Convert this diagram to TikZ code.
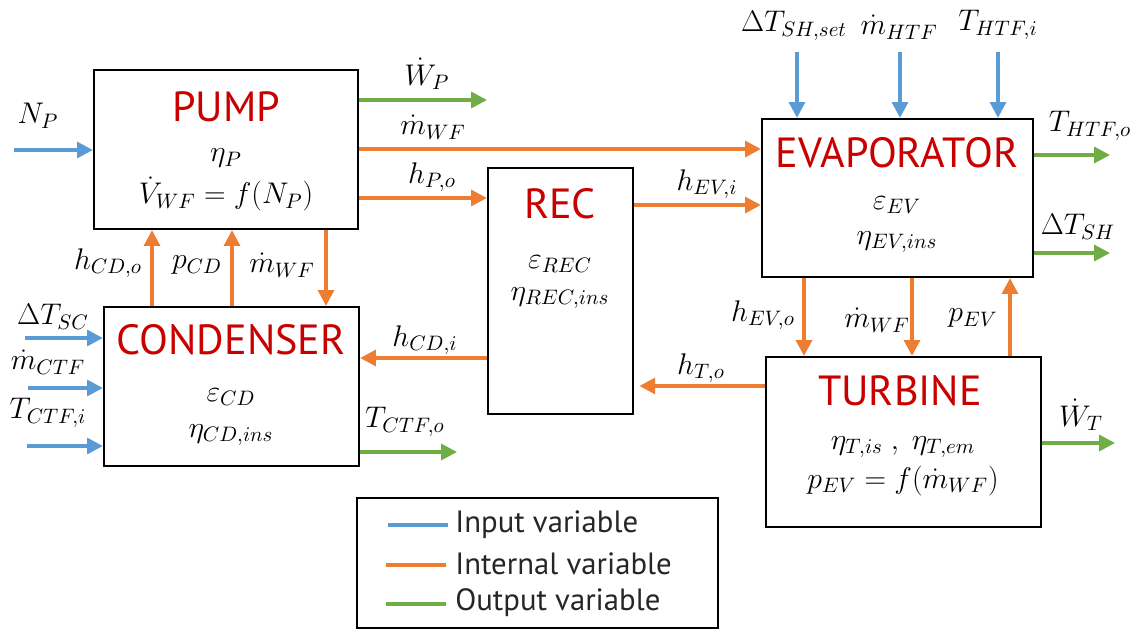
\RequirePackage{fix-cm}
\documentclass[tikz,border=0pt]{standalone}
\usepackage{fontspec}
\setmainfont{PT Sans}
\usetikzlibrary{arrows.meta}
\definecolor{cin}{HTML}{5B9BD5}
\definecolor{cint}{HTML}{ED7D31}
\definecolor{cout}{HTML}{70AD47}
\definecolor{ctitle}{HTML}{C80000}
\begin{document}
\begin{tikzpicture}[x=0.02cm,y=-0.02cm,
 box/.style={draw=black, line width=1.3pt, fill=white, inner sep=0},
 title/.style={text=ctitle, font=\fontsize{24}{26}\selectfont, inner sep=0},
 mth/.style={font=\fontsize{17}{20}\selectfont, inner sep=0},
 arr/.style={line width=2pt, -{Triangle[length=9pt,width=9pt]}},
 inarr/.style={arr, draw=cin},
 intarr/.style={arr, draw=cint},
 outarr/.style={arr, draw=cout},
 legline/.style={line width=2pt},
 legtext/.style={font=\fontsize{17.5}{20}\selectfont, anchor=west, inner sep=0, text=black!85}]
\fill[white] (0,0) rectangle (1139,630);
\useasboundingbox (0,0) rectangle (1139,630);

% boxes
\node[box, minimum width=5.28cm, minimum height=3.18cm] (pump) at (226,149.5) {};
\node[box, minimum width=5.10cm, minimum height=3.18cm] (cond) at (231.5,386.5) {};
\node[box, minimum width=2.90cm, minimum height=4.92cm] (rec) at (560.5,291) {};
\node[box, minimum width=5.42cm, minimum height=3.16cm] (evap) at (897.5,198) {};
\node[box, minimum width=5.50cm, minimum height=3.40cm] (turb) at (903.5,442) {};
\node[box, minimum width=7.22cm, minimum height=2.60cm] (leg) at (537.5,563) {};

% box texts
\node[title] (pumpT) at (226,107) {PUMP};
\node[mth] (pumpA) at (226,158) {$\eta_P$};
\node[mth] (pumpB) at (226,194) {$\dot V_{WF}=f(N_P)$};
\node[title] (condT) at (231,340) {CONDENSER};
\node[mth] (condA) at (231,397) {$\varepsilon_{CD}$};
\node[mth] (condB) at (231,435) {$\eta_{CD,ins}$};
\node[title] (recT) at (560,204) {REC};
\node[mth] (recA) at (560,264) {$\varepsilon_{REC}$};
\node[mth] (recB) at (560,298) {$\eta_{REC,ins}$};
\node[title] (evapT) at (897,153) {EVAPORATOR};
\node[mth] (evapA) at (897,205) {$\varepsilon_{EV}$};
\node[mth] (evapB) at (897,242) {$\eta_{EV,ins}$};
\node[title] (turbT) at (900,391) {TURBINE};
\node[mth] (turbA) at (903,447) {$\eta_{T,is}\ ,\ \eta_{T,em}$};
\node[mth] (turbB) at (903,481) {$p_{EV}=f(\dot m_{WF})$};

% free ends and levels
\coordinate (npS) at (14,150);
\coordinate (wpE) at (487,100);
\coordinate (mwfY) at (0,149);
\coordinate (hpoY) at (0,198);
\coordinate (heviY) at (0,205);
\coordinate (dtsS) at (797,52);
\coordinate (mhS) at (900,52);
\coordinate (thiS) at (998,52);
\coordinate (thoE) at (1110,155);
\coordinate (dshE) at (1110,253);
\coordinate (hevoX) at (804,0);
\coordinate (mwf2X) at (912,0);
\coordinate (pevX) at (1010,0);
\coordinate (htoY) at (0,386);
\coordinate (wtE) at (1115,443);
\coordinate (hcdiY) at (0,358);
\coordinate (hcdoX) at (152,0);
\coordinate (pcdX) at (232,0);
\coordinate (mwf3X) at (326,0);
\coordinate (dtscS) at (25,338);
\coordinate (mctfS) at (28,388);
\coordinate (tctfS) at (27,446);
\coordinate (tctfoE) at (457,452);

% connectors
\draw[inarr] (npS) -- (npS -| pump.west);
\draw[outarr] (wpE -| pump.east) -- (wpE);
\draw[intarr] (mwfY -| pump.east) -- (mwfY -| evap.west);
\draw[intarr] (hpoY -| pump.east) -- (hpoY -| rec.west);
\draw[intarr] (heviY -| rec.east) -- (heviY -| evap.west);
\draw[inarr] (dtsS) -- (dtsS |- evap.north);
\draw[inarr] (mhS) -- (mhS |- evap.north);
\draw[inarr] (thiS) -- (thiS |- evap.north);
\draw[outarr] (thoE -| evap.east) -- (thoE);
\draw[outarr] (dshE -| evap.east) -- (dshE);
\draw[intarr] (hevoX |- evap.south) -- (hevoX |- turb.north);
\draw[intarr] (mwf2X |- evap.south) -- (mwf2X |- turb.north);
\draw[intarr] (pevX |- turb.north) -- (pevX |- evap.south);
\draw[intarr, shorten >=3pt] (htoY -| turb.west) -- (htoY -| rec.east);
\draw[outarr] (wtE -| turb.east) -- (wtE);
\draw[intarr] (hcdiY -| rec.west) -- (hcdiY -| cond.east);
\draw[intarr] (hcdoX |- cond.north) -- (hcdoX |- pump.south);
\draw[intarr] (pcdX |- cond.north) -- (pcdX |- pump.south);
\draw[intarr] (mwf3X |- pump.south) -- (mwf3X |- cond.north);
\draw[inarr] (dtscS) -- (dtscS -| cond.west);
\draw[inarr] (mctfS) -- (mctfS -| cond.west);
\draw[inarr] (tctfS) -- (tctfS -| cond.west);
\draw[outarr] (tctfoE -| cond.east) -- (tctfoE);

% connector labels
\node[mth] (lNP) at (38,116) {$N_P$};
\node[mth] (lWP) at (427,74) {$\dot W_P$};
\node[mth] (lmwf) at (433,127) {$\dot m_{WF}$};
\node[mth] (lhpo) at (432,177) {$h_{P,o}$};
\node[mth] (lhevi) at (707,184) {$h_{EV,i}$};
\node[mth] (ldts) at (794,26) {$\Delta T_{SH,set}$};
\node[mth] (lmh) at (899,27) {$\dot m_{HTF}$};
\node[mth] (lthi) at (998,25) {$T_{HTF,i}$};
\node[mth] (ltho) at (1090,126) {$T_{HTF,o}$};
\node[mth] (ldsh) at (1078,227) {$\Delta T_{SH}$};
\node[mth] (lhevo) at (763,315) {$h_{EV,o}$};
\node[mth] (lmwf2) at (877,320) {$\dot m_{WF}$};
\node[mth] (lpev) at (973,318) {$p_{EV}$};
\node[mth] (lhto) at (701,368) {$h_{T,o}$};
\node[mth] (lwt) at (1081,415) {$\dot W_T$};
\node[mth] (lhcdi) at (425,340) {$h_{CD,i}$};
\node[mth] (lhcdo) at (108,263) {$h_{CD,o}$};
\node[mth] (lpcd) at (197,265) {$p_{CD}$};
\node[mth] (lmwf3) at (282,265) {$\dot m_{WF}$};
\node[mth] (ldtsc) at (53,317) {$\Delta T_{SC}$};
\node[mth] (lmctf) at (48,362) {$\dot m_{CTF}$};
\node[mth] (ltctf) at (48,413) {$T_{CTF,i}$};
\node[mth] (ltctfo) at (405,422) {$T_{CTF,o}$};

% legend
\coordinate (l1a) at (388,525); \coordinate (l1b) at (448,525);
\coordinate (l2a) at (386,565); \coordinate (l2b) at (446,565);
\coordinate (l3a) at (386,604); \coordinate (l3b) at (446,604);
\draw[legline, cin] (l1a) -- (l1b);
\draw[legline, cint] (l2a) -- (l2b);
\draw[legline, cout] (l3a) -- (l3b);
\node[legtext] (lt1) at (455,525) {Input variable};
\node[legtext] (lt2) at (455,564) {Internal variable};
\node[legtext] (lt3) at (455,603) {Output variable};
\end{tikzpicture}
\end{document}
